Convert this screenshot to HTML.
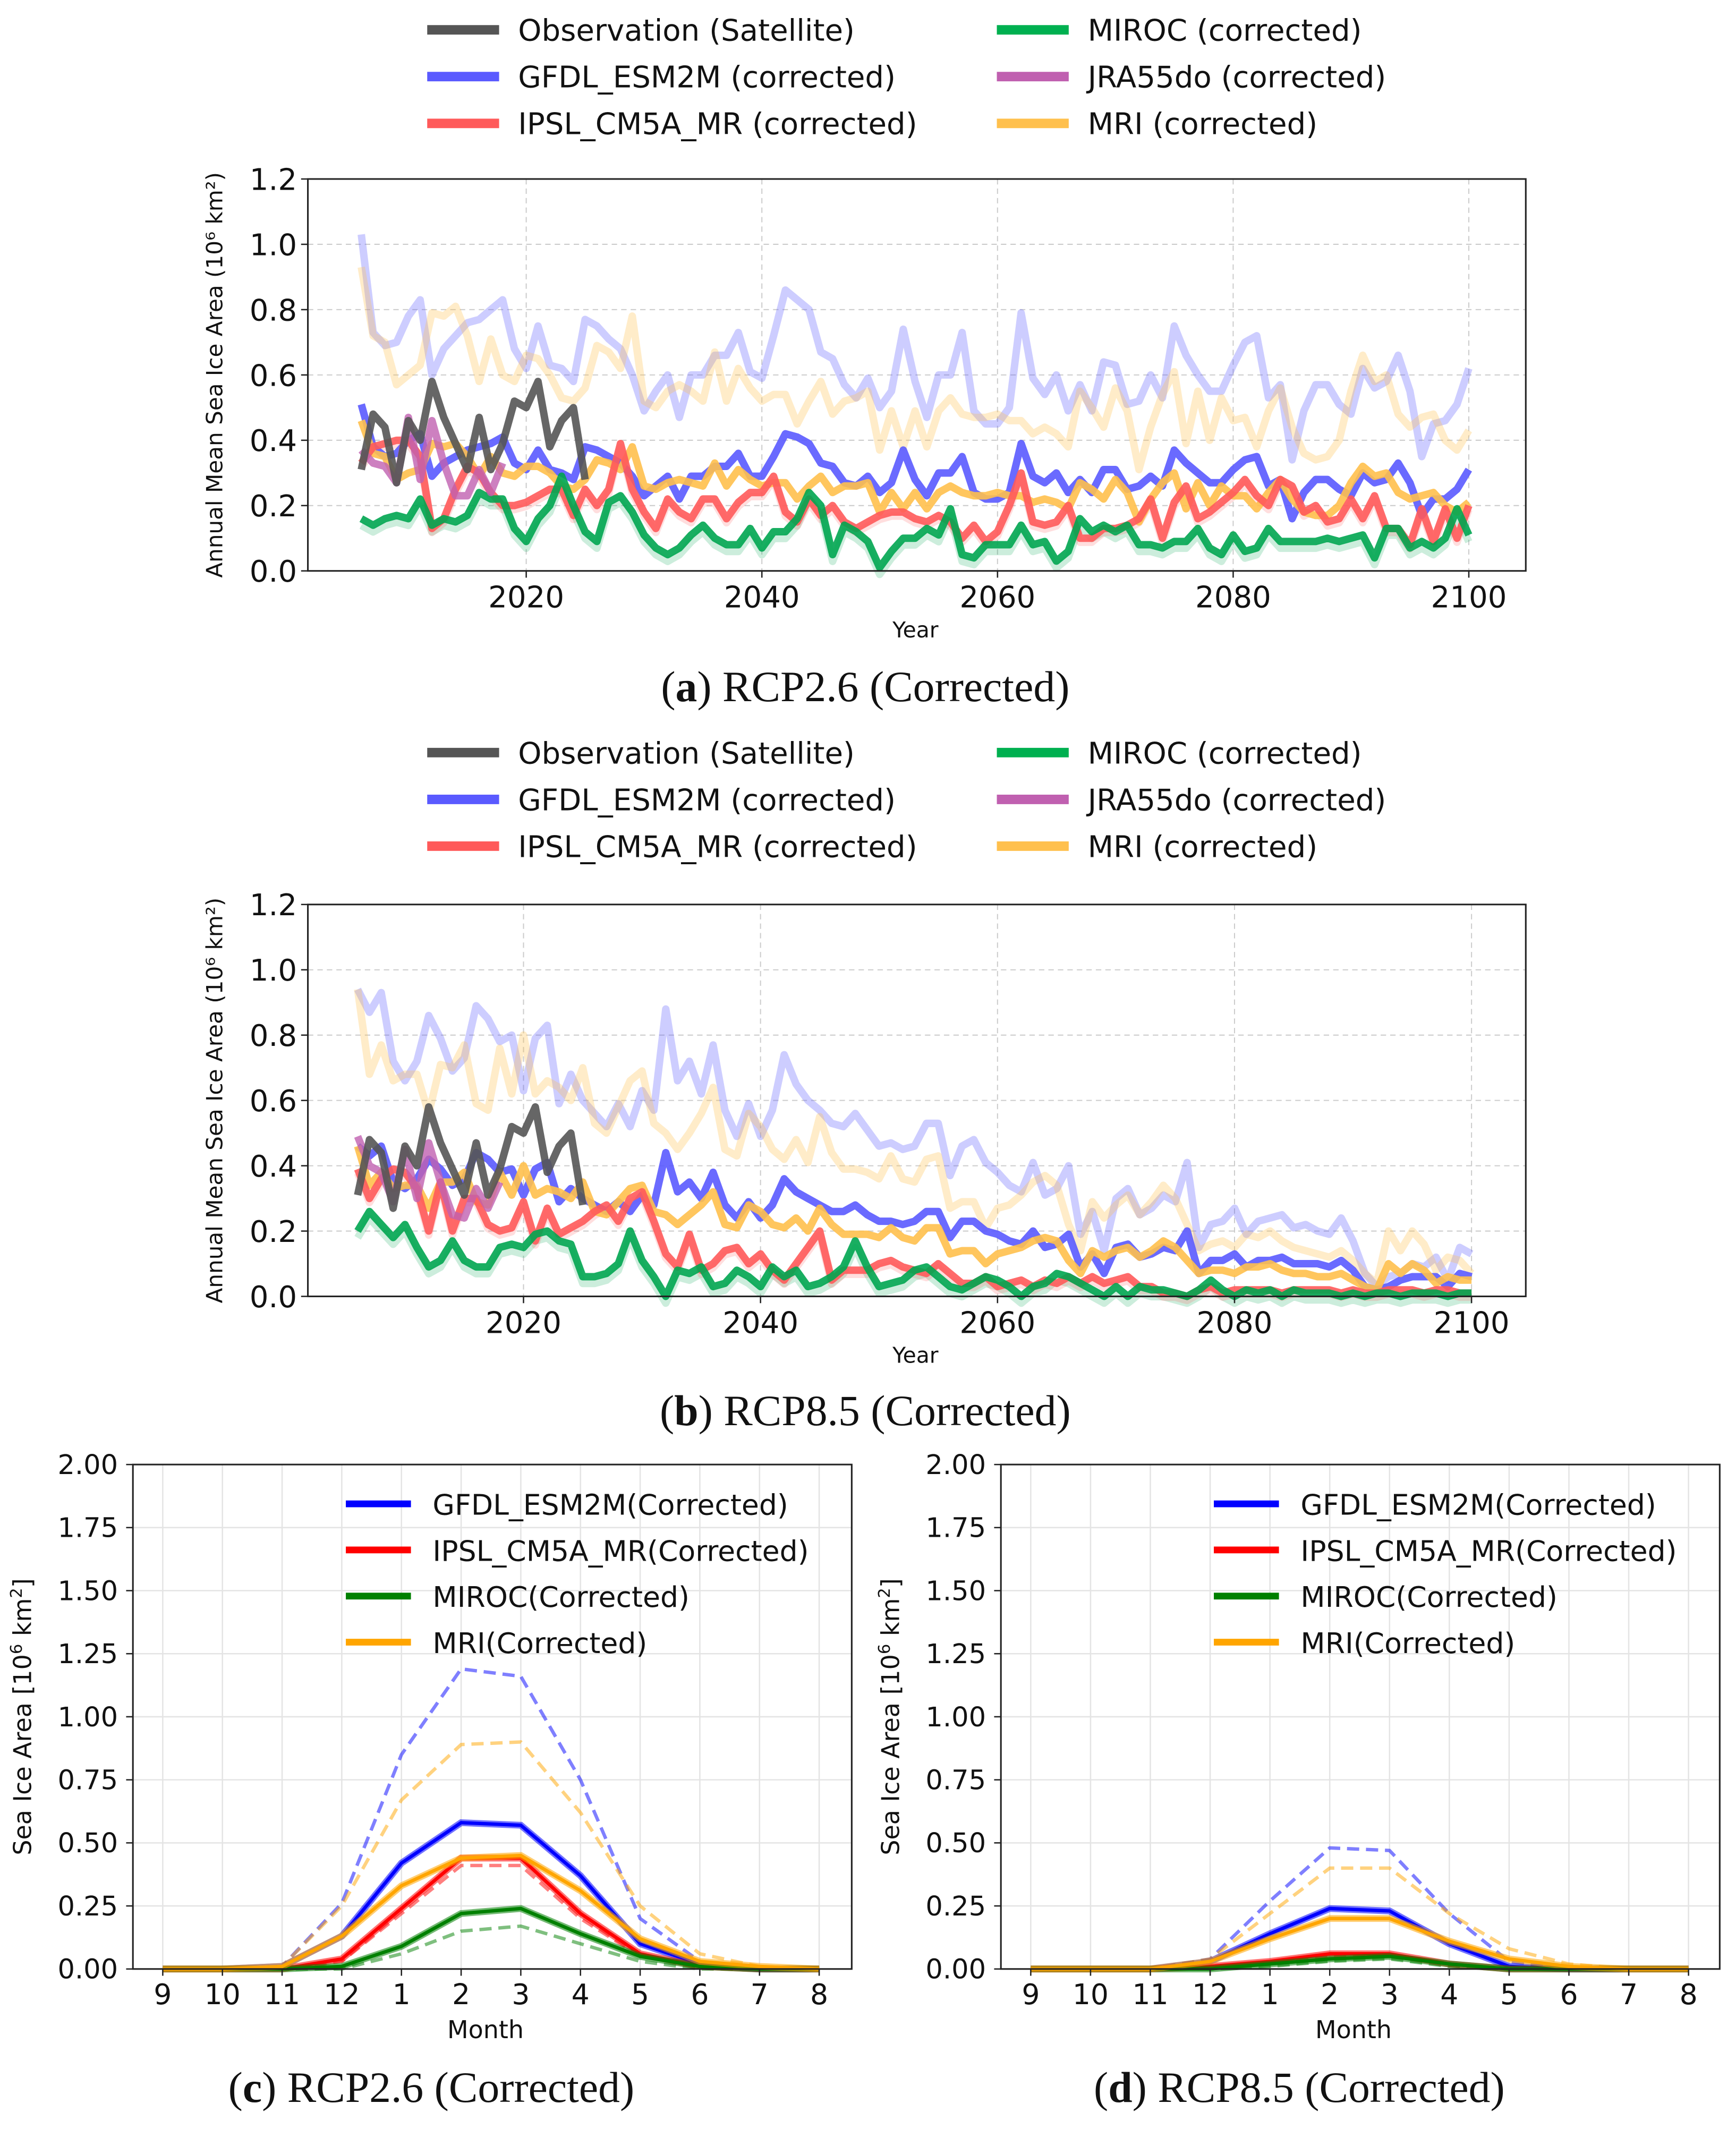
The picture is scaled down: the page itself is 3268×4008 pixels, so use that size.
<!DOCTYPE html>
<html><head><meta charset="utf-8"><style>
html,body{margin:0;padding:0;background:#fff;}
svg{display:block;}
text{font-family:"DejaVu Sans","Liberation Sans",sans-serif;fill:#111;}
.serif{font-family:"Liberation Serif",serif;}
</style></head><body>
<svg id="fig" xmlns="http://www.w3.org/2000/svg" width="3268" height="4008" viewBox="0 0 1280 1570" preserveAspectRatio="none"></svg>
<script>
// ---------- annual data (2006..2100) ----------
const years = Array.from({length:95},(_,i)=>2006+i);
const obsYears = [2006,2007,2008,2009,2010,2011,2012,2013,2014,2015,2016,2017,2018,2019,2020,2021,2022,2023,2024,2025];
const obsVals = [0.31,0.48,0.44,0.27,0.46,0.40,0.58,0.47,0.39,0.31,0.47,0.31,0.39,0.52,0.50,0.58,0.38,0.46,0.50,0.28];
const jraYears = [2006,2007,2008,2009,2010,2011,2012,2013,2014,2015,2016,2017,2018];
const jraA = [0.37,0.33,0.32,0.27,0.47,0.28,0.46,0.33,0.23,0.23,0.31,0.24,0.33];
const jraB = [0.49,0.40,0.38,0.29,0.45,0.30,0.47,0.35,0.25,0.24,0.33,0.27,0.35];

const gfdlRawA = [1.03,0.73,0.69,0.70,0.78,0.83,0.60,0.68,0.72,0.76,0.77,0.80,0.83,0.68,0.62,0.75,0.63,0.62,0.58,0.77,0.75,0.71,0.68,0.60,0.49,0.55,0.60,0.47,0.60,0.60,0.66,0.66,0.73,0.61,0.59,0.72,0.86,0.83,0.80,0.67,0.65,0.57,0.53,0.59,0.50,0.55,0.74,0.58,0.47,0.60,0.60,0.73,0.49,0.45,0.45,0.50,0.79,0.59,0.54,0.60,0.49,0.57,0.49,0.64,0.63,0.51,0.52,0.60,0.53,0.75,0.66,0.60,0.55,0.55,0.63,0.70,0.72,0.53,0.57,0.34,0.49,0.57,0.57,0.51,0.48,0.62,0.56,0.58,0.66,0.55,0.35,0.45,0.46,0.51,0.62];
const mriRawA = [0.93,0.72,0.70,0.57,0.60,0.63,0.79,0.78,0.81,0.72,0.58,0.71,0.60,0.58,0.66,0.65,0.60,0.53,0.52,0.56,0.69,0.67,0.62,0.78,0.52,0.50,0.55,0.57,0.55,0.52,0.67,0.52,0.62,0.56,0.52,0.54,0.54,0.45,0.52,0.58,0.48,0.52,0.53,0.55,0.37,0.49,0.38,0.49,0.38,0.49,0.53,0.48,0.47,0.47,0.48,0.46,0.46,0.42,0.44,0.42,0.38,0.55,0.50,0.44,0.56,0.49,0.31,0.44,0.54,0.61,0.39,0.55,0.40,0.53,0.46,0.47,0.38,0.49,0.56,0.44,0.36,0.34,0.35,0.40,0.55,0.66,0.58,0.60,0.48,0.44,0.47,0.48,0.40,0.37,0.43];
const gfdlA = [0.51,0.38,0.35,0.36,0.40,0.42,0.29,0.33,0.35,0.37,0.38,0.39,0.41,0.33,0.31,0.37,0.31,0.30,0.28,0.38,0.37,0.35,0.33,0.29,0.23,0.26,0.29,0.22,0.29,0.29,0.32,0.32,0.36,0.29,0.29,0.35,0.42,0.41,0.39,0.33,0.32,0.27,0.26,0.29,0.24,0.27,0.37,0.28,0.23,0.30,0.30,0.35,0.24,0.22,0.22,0.24,0.39,0.29,0.27,0.30,0.24,0.28,0.24,0.31,0.31,0.25,0.26,0.29,0.26,0.37,0.33,0.30,0.27,0.27,0.31,0.34,0.35,0.26,0.28,0.16,0.24,0.28,0.28,0.25,0.23,0.30,0.27,0.28,0.33,0.27,0.17,0.22,0.22,0.25,0.31];
const mriA = [0.46,0.36,0.35,0.28,0.30,0.31,0.39,0.38,0.39,0.35,0.29,0.35,0.30,0.29,0.32,0.32,0.30,0.26,0.25,0.28,0.34,0.33,0.31,0.38,0.26,0.25,0.27,0.28,0.27,0.26,0.33,0.26,0.31,0.28,0.26,0.27,0.27,0.22,0.26,0.29,0.24,0.26,0.26,0.27,0.18,0.24,0.19,0.24,0.19,0.24,0.26,0.24,0.23,0.23,0.24,0.23,0.23,0.21,0.22,0.21,0.19,0.27,0.25,0.22,0.28,0.24,0.15,0.22,0.27,0.30,0.19,0.27,0.20,0.26,0.23,0.23,0.19,0.24,0.28,0.22,0.18,0.17,0.17,0.20,0.27,0.32,0.29,0.30,0.24,0.22,0.23,0.24,0.20,0.18,0.21];
const ipslA = [0.33,0.38,0.39,0.40,0.40,0.35,0.13,0.16,0.25,0.32,0.30,0.24,0.20,0.20,0.21,0.23,0.25,0.25,0.17,0.25,0.20,0.25,0.39,0.25,0.18,0.13,0.22,0.18,0.16,0.22,0.22,0.16,0.21,0.24,0.24,0.29,0.18,0.15,0.22,0.17,0.20,0.15,0.13,0.15,0.17,0.18,0.18,0.16,0.15,0.17,0.15,0.10,0.14,0.09,0.12,0.20,0.30,0.15,0.14,0.15,0.20,0.10,0.10,0.13,0.13,0.14,0.16,0.22,0.10,0.21,0.26,0.16,0.18,0.21,0.24,0.28,0.23,0.20,0.28,0.26,0.18,0.20,0.15,0.16,0.22,0.16,0.23,0.13,0.13,0.08,0.19,0.09,0.19,0.10,0.20];
const mirocA = [0.16,0.14,0.16,0.17,0.16,0.22,0.14,0.16,0.15,0.17,0.24,0.22,0.22,0.13,0.09,0.16,0.20,0.29,0.20,0.12,0.09,0.21,0.23,0.18,0.11,0.07,0.05,0.07,0.11,0.14,0.10,0.08,0.08,0.13,0.07,0.12,0.12,0.16,0.24,0.20,0.05,0.14,0.12,0.09,0.01,0.06,0.10,0.10,0.13,0.11,0.19,0.05,0.04,0.08,0.08,0.08,0.14,0.08,0.09,0.03,0.06,0.16,0.12,0.14,0.12,0.14,0.08,0.08,0.07,0.09,0.09,0.13,0.07,0.05,0.11,0.06,0.07,0.13,0.09,0.09,0.09,0.09,0.10,0.09,0.10,0.11,0.04,0.13,0.13,0.07,0.09,0.07,0.10,0.19,0.11];

const gfdlRawB = [0.94,0.87,0.93,0.72,0.66,0.72,0.86,0.79,0.69,0.73,0.89,0.85,0.78,0.80,0.63,0.79,0.83,0.59,0.68,0.60,0.56,0.52,0.59,0.52,0.63,0.57,0.88,0.66,0.72,0.62,0.77,0.57,0.49,0.59,0.49,0.57,0.74,0.65,0.60,0.57,0.53,0.52,0.56,0.51,0.46,0.47,0.45,0.46,0.53,0.53,0.37,0.46,0.48,0.41,0.38,0.34,0.32,0.41,0.31,0.33,0.40,0.19,0.26,0.14,0.30,0.33,0.25,0.27,0.31,0.29,0.41,0.15,0.22,0.23,0.27,0.19,0.23,0.24,0.25,0.21,0.22,0.20,0.19,0.24,0.17,0.07,0.03,0.06,0.07,0.10,0.09,0.12,0.05,0.15,0.13];
const mriRawB = [0.94,0.68,0.77,0.66,0.68,0.68,0.56,0.71,0.70,0.77,0.59,0.57,0.76,0.62,0.80,0.62,0.66,0.64,0.60,0.70,0.53,0.50,0.58,0.66,0.69,0.53,0.50,0.45,0.50,0.56,0.64,0.45,0.43,0.56,0.52,0.45,0.42,0.48,0.41,0.55,0.44,0.39,0.39,0.38,0.36,0.43,0.36,0.35,0.42,0.43,0.27,0.29,0.29,0.21,0.27,0.28,0.31,0.35,0.37,0.34,0.22,0.14,0.29,0.24,0.28,0.31,0.25,0.29,0.34,0.30,0.22,0.14,0.16,0.17,0.15,0.19,0.18,0.20,0.17,0.15,0.14,0.13,0.12,0.14,0.11,0.07,0.04,0.20,0.14,0.20,0.16,0.08,0.12,0.11,0.07];
const gfdlB = [0.46,0.43,0.46,0.35,0.33,0.36,0.42,0.39,0.34,0.36,0.44,0.42,0.38,0.39,0.31,0.39,0.41,0.29,0.33,0.30,0.28,0.26,0.29,0.26,0.31,0.28,0.44,0.32,0.35,0.30,0.38,0.28,0.24,0.29,0.24,0.28,0.36,0.32,0.30,0.28,0.26,0.26,0.28,0.25,0.23,0.23,0.22,0.23,0.26,0.26,0.18,0.23,0.23,0.20,0.19,0.17,0.16,0.20,0.15,0.16,0.19,0.09,0.13,0.07,0.15,0.16,0.12,0.13,0.15,0.14,0.20,0.07,0.11,0.11,0.13,0.09,0.11,0.11,0.12,0.10,0.10,0.10,0.09,0.11,0.08,0.03,0.02,0.03,0.05,0.06,0.06,0.06,0.03,0.07,0.06];
const mriB = [0.46,0.34,0.38,0.33,0.34,0.34,0.27,0.35,0.35,0.38,0.29,0.28,0.38,0.31,0.40,0.31,0.33,0.32,0.30,0.35,0.26,0.25,0.29,0.33,0.34,0.26,0.25,0.22,0.25,0.28,0.32,0.22,0.21,0.28,0.26,0.22,0.21,0.24,0.20,0.27,0.22,0.19,0.19,0.19,0.18,0.21,0.18,0.17,0.21,0.21,0.13,0.14,0.14,0.10,0.13,0.14,0.15,0.17,0.18,0.17,0.11,0.07,0.14,0.12,0.14,0.15,0.12,0.14,0.17,0.15,0.11,0.07,0.08,0.08,0.07,0.09,0.09,0.10,0.08,0.07,0.07,0.06,0.06,0.07,0.05,0.03,0.02,0.10,0.07,0.10,0.08,0.04,0.06,0.05,0.05];
const ipslB = [0.39,0.30,0.36,0.39,0.38,0.33,0.20,0.35,0.20,0.30,0.30,0.22,0.20,0.21,0.29,0.17,0.27,0.19,0.21,0.23,0.26,0.28,0.23,0.30,0.32,0.23,0.13,0.09,0.19,0.08,0.10,0.14,0.15,0.10,0.13,0.08,0.05,0.10,0.15,0.20,0.05,0.08,0.08,0.08,0.10,0.11,0.09,0.08,0.07,0.10,0.07,0.04,0.04,0.06,0.03,0.04,0.05,0.03,0.05,0.04,0.06,0.04,0.06,0.04,0.05,0.06,0.03,0.03,0.01,0.01,0.00,0.02,0.03,0.01,0.02,0.02,0.02,0.02,0.01,0.02,0.02,0.02,0.02,0.01,0.02,0.01,0.01,0.02,0.02,0.02,0.01,0.02,0.02,0.01,0.01];
const mirocB = [0.20,0.26,0.22,0.18,0.22,0.15,0.09,0.11,0.17,0.11,0.09,0.09,0.15,0.16,0.15,0.19,0.20,0.17,0.16,0.06,0.06,0.07,0.10,0.20,0.11,0.06,0.00,0.08,0.07,0.09,0.03,0.04,0.08,0.06,0.03,0.09,0.06,0.08,0.03,0.04,0.06,0.09,0.17,0.09,0.03,0.04,0.05,0.08,0.09,0.06,0.03,0.02,0.04,0.06,0.05,0.03,0.00,0.03,0.04,0.07,0.06,0.04,0.02,0.00,0.03,0.00,0.03,0.02,0.02,0.01,0.00,0.02,0.05,0.02,0.00,0.02,0.01,0.02,0.00,0.02,0.01,0.01,0.01,0.00,0.01,0.00,0.01,0.01,0.00,0.01,0.01,0.01,0.00,0.01,0.01];

const yTicksAnnual = [0.0,0.2,0.4,0.6,0.8,1.0,1.2];
const yTickLabelsAnnual = ["0.0","0.2","0.4","0.6","0.8","1.0","1.2"];
const xTicksAnnual = [2020,2040,2060,2080,2100];

// ---------- monthly data ----------
const months = ["9","10","11","12","1","2","3","4","5","6","7","8"];
const yTicksMonthly = [0,0.25,0.5,0.75,1.0,1.25,1.5,1.75,2.0];
const yTickLabelsMonthly = ["0.00","0.25","0.50","0.75","1.00","1.25","1.50","1.75","2.00"];
const gfdlC = [0,0,0.01,0.13,0.42,0.58,0.57,0.37,0.10,0.02,0,0];
const gfdlRawC = [0,0,0.01,0.26,0.85,1.19,1.16,0.75,0.20,0.03,0,0];
const ipslC = [0,0,0,0.04,0.24,0.44,0.44,0.22,0.06,0.01,0,0];
const ipslRawC = [0,0,0,0.03,0.22,0.41,0.41,0.20,0.05,0.01,0,0];
const mirocC = [0,0,0,0.01,0.09,0.22,0.24,0.14,0.05,0.01,0,0];
const mirocRawC = [0,0,0,0,0.06,0.15,0.17,0.10,0.03,0,0,0];
const mriC = [0,0,0.01,0.13,0.33,0.44,0.45,0.31,0.12,0.03,0.01,0];
const mriRawC = [0,0,0.01,0.25,0.67,0.89,0.90,0.62,0.25,0.06,0.01,0];
const gfdlD = [0,0,0,0.03,0.14,0.24,0.23,0.10,0.01,0,0,0];
const gfdlRawD = [0,0,0,0.04,0.27,0.48,0.47,0.22,0.03,0,0,0];
const ipslD = [0,0,0,0.01,0.03,0.06,0.06,0.02,0,0,0,0];
const ipslRawD = [0,0,0,0.01,0.02,0.05,0.05,0.02,0,0,0,0];
const mirocD = [0,0,0,0,0.02,0.04,0.05,0.02,0,0,0,0];
const mirocRawD = [0,0,0,0,0.01,0.03,0.04,0.01,0,0,0,0];
const mriD = [0,0,0,0.03,0.12,0.20,0.20,0.11,0.04,0.01,0,0];
const mriRawD = [0,0,0,0.04,0.22,0.40,0.40,0.22,0.08,0.02,0,0];

const NS="http://www.w3.org/2000/svg";
const fig=document.getElementById('fig');
function mk(tag,attrs,parent){const e=document.createElementNS(NS,tag);for(const k in attrs)e.setAttribute(k,attrs[k]);(parent||fig).appendChild(e);return e;}
function txt(s,x,y,size,anchor,parent,extra){const t=mk('text',Object.assign({x:x,y:y,'font-size':size,'text-anchor':anchor||'start'},extra||{}),parent);t.textContent=s;return t;}

function annualPanel(cfg){
  const g=mk('g',{});
  
  
  const L=227,R=1125,T=cfg.top,B=cfg.top+289;
  const xs=v=>cfg.x2020+(v-2020)*(cfg.x2100-cfg.x2020)/80;
  const ys=v=>B-v*(B-T)/1.2;
  mk('rect',{x:L,y:T,width:R-L,height:B-T,fill:'#fff'},g);
  xTicksAnnual.forEach(v=>{mk('line',{x1:xs(v),x2:xs(v),y1:T,y2:B,stroke:'#ccc','stroke-width':0.8,'stroke-dasharray':'4 3'},g);});
  yTicksAnnual.forEach(v=>{if(v>0&&v<1.2)mk('line',{x1:L,x2:R,y1:ys(v),y2:ys(v),stroke:'#ccc','stroke-width':0.8,'stroke-dasharray':'4 3'},g);});
  function line(xv,yv,color,w,op,name,dy){
    const p=mk('polyline',{points:xv.map((x,i)=>xs(x).toFixed(1)+','+(ys(yv[i])+(dy||0)).toFixed(1)).join(' '),fill:'none',stroke:color,'stroke-width':w,'stroke-opacity':op,'stroke-linejoin':'round'},g);
    
    
  }
  const d=cfg.d;
  line(years,d.gfdlRaw,'#5a5aff',5.5,0.3,'gfdl-raw-line');
  line(years,d.mriRaw,'#ffc04d',5.5,0.3,'mri-raw-line');
  line(years,d.miroc,'#00a550',5.5,0.2,'miroc-raw-band',5);
  line(years,d.ipsl,'#ff5a5a',5.5,0.2,'ipsl-raw-band',3);
  line(years,d.gfdl,'#5a5aff',5.5,0.9,'gfdl-line');
  line(years,d.mri,'#ffc04d',5.5,0.9,'mri-line');
  line(years,d.ipsl,'#ff5a5a',5.5,0.9,'ipsl-line');
  line(years,d.miroc,'#00a550',5.5,0.9,'miroc-line');
  line(jraYears,d.jra,'#c060b0',5.5,0.8,'jra55do-line');
  line(obsYears,obsVals,'#555',5.5,0.9,'observation-line');
  mk('rect',{x:L,y:T,width:R-L,height:B-T,fill:'none',stroke:'#222','stroke-width':1.2},g);
  yTicksAnnual.forEach((v,i)=>{mk('line',{x1:L-5,x2:L,y1:ys(v),y2:ys(v),stroke:'#222'},g);txt(yTickLabelsAnnual[i],L-8,ys(v)+8,22,'end',g);});
  xTicksAnnual.forEach(v=>{mk('line',{x1:xs(v),x2:xs(v),y1:B,y2:B+5,stroke:'#222'},g);txt(String(v),xs(v),B+27,22,'middle',g);});
  txt('Year',675,B+49,16,'middle',g);
  const yl=txt('Annual Mean Sea Ice Area (10\u2076 km\u00b2)',0,0,16.5,'middle',g,{transform:'translate('+(L-63)+','+((T+B)/2)+') rotate(-90)'});
  
  const lg=mk('g',{},g);
  
  
  const items=[['Observation (Satellite)','#555',0,0],['GFDL_ESM2M (corrected)','#5a5aff',0,1],['IPSL_CM5A_MR (corrected)','#ff5a5a',0,2],['MIROC (corrected)','#00b050',1,0],['JRA55do (corrected)','#c060b0',1,1],['MRI (corrected)','#ffc04d',1,2]];
  items.forEach(it=>{
    const x0=it[2]?735:315, yy=cfg.legY+it[3]*34.5;
    const e=mk('g',{},lg);
    
    
    mk('line',{x1:x0,x2:x0+53,y1:yy,y2:yy,stroke:it[1],'stroke-width':7},e);
    txt(it[0],x0+67,yy+8,22,'start',e);
  });
  const ti=mk('text',{x:638,y:cfg.titleY,'font-size':32,'text-anchor':'middle',class:'serif'},g);
  
  ti.innerHTML='(<tspan font-weight="bold">'+cfg.letter+'</tspan>) '+cfg.title;
}
annualPanel({name:'panel-a-rcp26',top:132,x2020:388,x2100:1083,legY:22,titleY:517,letter:'a',title:'RCP2.6 (Corrected)',
  d:{gfdlRaw:gfdlRawA,mriRaw:mriRawA,gfdl:gfdlA,mri:mriA,ipsl:ipslA,miroc:mirocA,jra:jraA}});
annualPanel({name:'panel-b-rcp85',top:667,x2020:386,x2100:1085,legY:555,titleY:1051,letter:'b',title:'RCP8.5 (Corrected)',
  d:{gfdlRaw:gfdlRawB,mriRaw:mriRawB,gfdl:gfdlB,mri:mriB,ipsl:ipslB,miroc:mirocB,jra:jraB}});

function monthlyPanel(cfg){
  const g=mk('g',{});
  
  
  const L=cfg.left,R=cfg.left+530,T=1080,B=1452;
  const xs=i=>cfg.x0+i*(cfg.x1-cfg.x0)/11;
  const ys=v=>B-v*(B-T)/2;
  months.forEach((m,i)=>mk('line',{x1:xs(i),x2:xs(i),y1:T,y2:B,stroke:'#e4e4e4','stroke-width':1},g));
  yTicksMonthly.forEach(v=>mk('line',{x1:L,x2:R,y1:ys(v),y2:ys(v),stroke:'#e4e4e4','stroke-width':1},g));
  function line(vals,color,dash,name){
    const pts=vals.map((v,i)=>xs(i).toFixed(1)+','+ys(v).toFixed(1)).join(' ');
    let p;
    if(dash){p=mk('polyline',{points:pts,fill:'none',stroke:color,'stroke-width':2.5,'stroke-opacity':0.5,'stroke-dasharray':'9 5'},g);}
    else{mk('polyline',{points:pts,fill:'none',stroke:color,'stroke-width':5,'stroke-opacity':0.55},g);
      p=mk('polyline',{points:pts,fill:'none',stroke:color,'stroke-width':2.5},g);}
    
    
  }
  const d=cfg.d;
  line(d.gfdlRaw,'#0000ff',true,'gfdl-raw-line');
  line(d.mriRaw,'#ffa500',true,'mri-raw-line');
  line(d.ipslRaw,'#ff0000',true,'ipsl-raw-line');
  line(d.mirocRaw,'#008000',true,'miroc-raw-line');
  line(d.gfdl,'#0000ff',false,'gfdl-line');
  line(d.ipsl,'#ff0000',false,'ipsl-line');
  line(d.miroc,'#008000',false,'miroc-line');
  line(d.mri,'#ffa500',false,'mri-line');
  mk('rect',{x:L,y:T,width:R-L,height:B-T,fill:'none',stroke:'#222','stroke-width':1.2},g);
  yTicksMonthly.forEach((v,i)=>{mk('line',{x1:L-5,x2:L,y1:ys(v),y2:ys(v),stroke:'#222'},g);txt(yTickLabelsMonthly[i],L-11,ys(v)+7,20,'end',g);});
  months.forEach((m,i)=>{mk('line',{x1:xs(i),x2:xs(i),y1:B,y2:B+5,stroke:'#222'},g);txt(m,xs(i),B+26,21,'middle',g);});
  txt('Month',(L+R)/2-5,B+51,18,'middle',g);
  const yl=mk('text',{'font-size':18,'text-anchor':'middle',transform:'translate('+(L-75)+','+((T+B)/2)+') rotate(-90)'},g);
  
  yl.innerHTML='Sea Ice Area [10<tspan dy="-7" font-size="12">6</tspan><tspan dy="7"> km</tspan><tspan dy="-7" font-size="12">2</tspan><tspan dy="7">]</tspan>';
  const lg=mk('g',{},g);
  
  
  [['GFDL_ESM2M(Corrected)','#0000ff'],['IPSL_CM5A_MR(Corrected)','#ff0000'],['MIROC(Corrected)','#008000'],['MRI(Corrected)','#ffa500']].forEach((it,i)=>{
    const yy=1109+i*34, x0=L+157;
    const e=mk('g',{},lg);
    
    
    mk('line',{x1:x0,x2:x0+48,y1:yy,y2:yy,stroke:it[1],'stroke-width':5},e);
    txt(it[0],x0+64,yy+8,21,'start',e);
  });
  const ti=mk('text',{x:(L+R)/2-45,y:1550,'font-size':32,'text-anchor':'middle',class:'serif'},g);
  
  ti.innerHTML='(<tspan font-weight="bold">'+cfg.letter+'</tspan>) RCP'+cfg.rcp+' (Corrected)';
}
monthlyPanel({name:'panel-c-monthly-rcp26',left:98,x0:120,x1:604,letter:'c',rcp:'2.6',
  d:{gfdl:gfdlC,gfdlRaw:gfdlRawC,ipsl:ipslC,ipslRaw:ipslRawC,miroc:mirocC,mirocRaw:mirocRawC,mri:mriC,mriRaw:mriRawC}});
monthlyPanel({name:'panel-d-monthly-rcp85',left:738,x0:760,x1:1245,letter:'d',rcp:'8.5',
  d:{gfdl:gfdlD,gfdlRaw:gfdlRawD,ipsl:ipslD,ipslRaw:ipslRawD,miroc:mirocD,mirocRaw:mirocRawD,mri:mriD,mriRaw:mriRawD}});
</script>
</body></html>
